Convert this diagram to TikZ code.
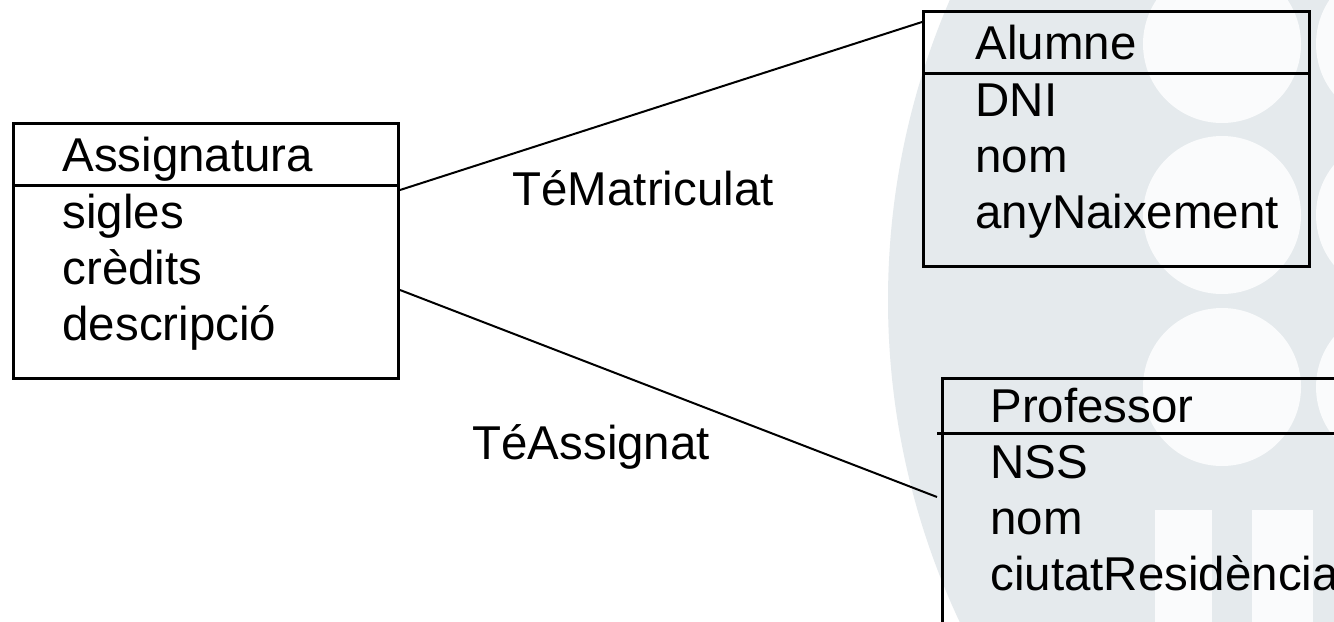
\documentclass[tikz,border=0pt]{standalone}
\usepackage{fontspec}
\setmainfont{Liberation Sans}
\definecolor{markgray}{RGB}{229,234,237}
\definecolor{markwhite}{RGB}{250,251,252}

\tikzset{every picture/.style={line width=0.75pt}}
\tikzset{
  classbox/.style={draw, rectangle, line width=2.25pt, inner sep=0pt, anchor=north west},
  classtext/.style={anchor=base west, inner sep=0pt, font=\fontsize{35.6}{42}\selectfont},
  relline/.style={line width=1.5pt},
}

\begin{document}
\begin{tikzpicture}[x=0.75pt,y=0.75pt,yscale=-1,xscale=1]
	\clip (0,0) rectangle (1334,621);
	\fill[white] (0,0) rectangle (1334,621);

	%Shape: watermark
	\fill[markgray] (1645,300) circle (757);
	\foreach \cx in {1222,1395}
		\foreach \cy in {44,215,387}
			\fill[markwhite] (\cx,\cy) circle (79);
	\fill[markwhite] (1155,510) rectangle (1212,640);
	\fill[markwhite] (1252,510) rectangle (1313,640);

	%Shape: Rectangle [Assignatura]
	\node[classbox, minimum width=288.75pt, minimum height=191.25pt] (assig) at (12,122) {};
	\draw[line width=2.25pt] (12,185) -- (397,185);
	%Shape: Rectangle [Alumne]
	\node[classbox, minimum width=289.5pt, minimum height=191.25pt] (alumne) at (922,10) {};
	\draw[line width=2.25pt] (922,73) -- (1308,73);
	%Shape: Rectangle [Professor]
	\node[classbox, minimum width=330pt, minimum height=225pt] (prof) at (941,377) {};
	\draw[line width=2.25pt] (937,433) -- (1340,433);

	%Straight Lines
	\draw[relline] ([yshift=51pt]assig.north east) -- ([yshift=9pt]alumne.north west);
	%Straight Lines
	\draw[relline] ([yshift=126pt]assig.north east) -- ([xshift=-3pt,yshift=90pt]prof.north west);

	% Text Node
	\node[classtext] (assigname) at (62,171) {Assignatura};
	\node[classtext] (sigles) at (62,228) {sigles};
	\node[classtext] (credits) at (62,284) {crèdits};
	\node[classtext] (descripcio) at (62,340) {descripció};
	% Text Node
	\node[classtext] (alumnename) at (975,59) {Alumne};
	\node[classtext] (dni) at (975,116) {DNI};
	\node[classtext] (alumnenom) at (975,172) {nom};
	\node[classtext] (any) at (975,228) {anyNaixement};
	% Text Node
	\node[classtext] (profname) at (990,422) {Professor};
	\node[classtext] (nss) at (990,478) {NSS};
	\node[classtext] (profnom) at (990,534) {nom};
	\node[classtext] (ciutat) at (990,590) {ciutatResidència};
	% Text Node
	\node[classtext] (matriculat) at (512,205) {TéMatriculat};
	\node[classtext] (assignat) at (472,459) {TéAssignat};

\end{tikzpicture}
\end{document}
